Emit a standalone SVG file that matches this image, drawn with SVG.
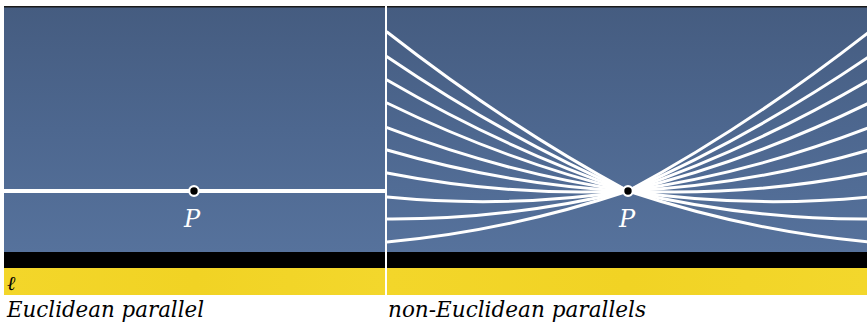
<svg xmlns="http://www.w3.org/2000/svg" width="867" height="326" viewBox="0 0 867 326">
  <defs>
    <linearGradient id="sky" x1="0" y1="0" x2="0" y2="1">
      <stop offset="0" stop-color="#455c80"/>
      <stop offset="0.5" stop-color="#4d678f"/>
      <stop offset="1" stop-color="#56729c"/>
    </linearGradient>
    <linearGradient id="sand" x1="0" y1="0" x2="1" y2="0">
      <stop offset="0" stop-color="#f3d62a"/>
      <stop offset="0.5" stop-color="#f1d324"/>
      <stop offset="1" stop-color="#f3d72c"/>
    </linearGradient>
  </defs>
  <style>
    .line { fill: none; stroke: #ffffff; stroke-width: 3; stroke-linecap: round; }
    .pt { fill: #000000; stroke: #ffffff; stroke-width: 2.2; }
    text { font-family: 'DejaVu Serif', 'Liberation Serif', serif; font-style: italic; }
  </style>
  <rect x="0" y="0" width="867" height="326" fill="#ffffff"/>

  <g id="left-panel">
    <rect x="4" y="6" width="381" height="246" fill="url(#sky)"/>
    <rect x="4" y="6" width="381" height="1.5" fill="#1a1a1a"/>
    <rect x="4" y="252" width="381" height="16" fill="#000000"/>
    <rect x="4" y="268" width="381" height="27" fill="url(#sand)"/>
    <text x="7" y="290" font-size="20" fill="#000000">ℓ</text>
  </g>

  <g id="right-panel">
    <rect x="387" y="6" width="480" height="246" fill="url(#sky)"/>
    <rect x="387" y="6" width="480" height="1.5" fill="#1a1a1a"/>
    <rect x="387" y="252" width="480" height="16" fill="#000000"/>
    <rect x="387" y="268" width="480" height="27" fill="url(#sand)"/>
  </g>

  <g id="connectors">
    <line class="line" x1="4" y1="191" x2="385" y2="191" style="stroke-width:4;stroke-linecap:butt"/>
    <path class="line" d="M628,191 Q507.5,126.15 387,32 M628,191 Q748.5,126.15 869,32"/>
    <path class="line" d="M628,191 Q507.5,138.5 387,56.7 M628,191 Q748.5,138.5 869,56.7"/>
    <path class="line" d="M628,191 Q507.5,150.15 387,80 M628,191 Q748.5,150.15 869,80"/>
    <path class="line" d="M628,191 Q507.5,161.65 387,103 M628,191 Q748.5,161.65 869,103"/>
    <path class="line" d="M628,191 Q507.5,174 387,127.7 M628,191 Q748.5,174 869,127.7"/>
    <path class="line" d="M628,191 Q507.5,185.15 387,150 M628,191 Q748.5,185.15 869,150"/>
    <path class="line" d="M628,191 Q507.5,196.65 387,173 M628,191 Q748.5,196.65 869,173"/>
    <path class="line" d="M628,191 Q507.5,208.65 387,197 M628,191 Q748.5,208.65 869,197"/>
    <path class="line" d="M628,191 Q507.5,219.65 387,219 M628,191 Q748.5,219.65 869,219"/>
    <path class="line" d="M628,191 Q507.5,231.15 387,242 M628,191 Q748.5,231.15 869,242"/>
  </g>

  <g id="separator">
    <rect x="385" y="6" width="2" height="289" fill="#ffffff"/>
  </g>

  <g id="point-P-left">
    <circle class="pt" cx="194" cy="191" r="4.8"/>
    <text x="184" y="227" font-size="24" fill="#ffffff">P</text>
  </g>

  <g id="point-P-right">
    <circle class="pt" cx="628" cy="191" r="4.8"/>
    <text x="619" y="227" font-size="24" fill="#ffffff">P</text>
  </g>

  <g id="captions">
    <text x="7" y="317" font-size="23" textLength="197" lengthAdjust="spacingAndGlyphs" fill="#000000">Euclidean parallel</text>
    <text x="388" y="317" font-size="23" textLength="258" lengthAdjust="spacingAndGlyphs" fill="#000000">non-Euclidean parallels</text>
  </g>
</svg>
